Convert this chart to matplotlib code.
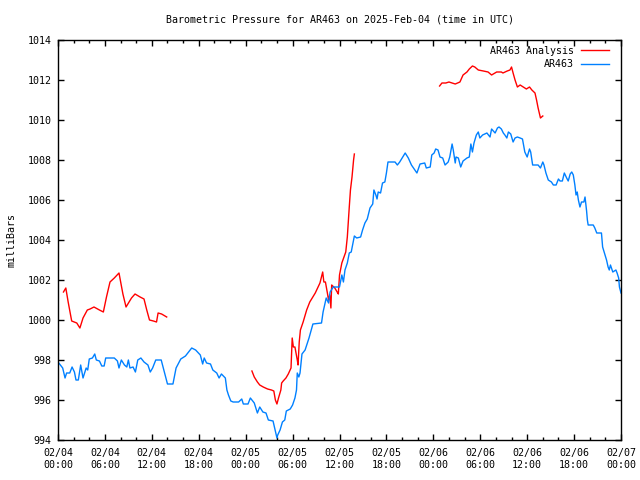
import numpy as np
import matplotlib
matplotlib.use('Agg')
import matplotlib.pyplot as plt
from matplotlib.ticker import MultipleLocator

# hours since 2025-02-04 00:00 UTC
ar463_hours = [0.0, 0.6, 0.9, 1.1, 1.5, 1.8, 2.1, 2.3, 2.6, 2.9, 3.2, 3.6, 3.8, 4.0, 4.4, 4.7, 4.9, 5.3, 5.6, 5.9,
               6.1, 7.2, 7.6, 7.8, 8.1, 8.5, 8.8, 9.0, 9.2, 9.6, 9.9, 10.2, 10.6, 11.0, 11.5, 11.8, 12.1, 12.5, 13.2,
               13.6, 14.0, 14.7, 15.1, 15.7, 16.3, 16.5, 17.1, 17.6, 18.2, 18.5, 18.7, 19.0, 19.5, 19.8, 20.3, 20.6,
               20.9, 21.4, 21.6, 21.8, 22.1, 22.4, 23.1, 23.5, 23.7, 24.3, 24.6, 25.1, 25.5, 25.8, 26.2, 26.6, 26.9,
               27.5, 27.7, 28.0, 28.1, 28.4, 28.7, 29.0, 29.2, 29.7, 30.0, 30.3, 30.5, 30.6, 30.8, 30.95, 31.2, 31.6,
               32.1, 32.6, 33.7, 33.9, 34.3, 34.6, 34.8, 35.2, 36.0, 36.3, 36.5, 36.7, 37.0, 37.25, 37.5, 37.9, 38.2,
               38.7, 38.95, 39.25, 39.55, 39.9, 40.25, 40.4, 40.65, 40.8, 40.95, 41.25, 41.5, 41.8, 42.0, 42.2, 43.1,
               43.4, 43.7, 44.4, 44.8, 45.2, 45.9, 46.3, 46.9, 47.1, 47.6, 47.8, 48.1, 48.3, 48.6, 48.85, 49.2, 49.5,
               49.9, 50.1, 50.4, 50.55, 50.8, 50.9, 51.2, 51.5, 51.8, 52.3, 52.6, 52.8, 53.0, 53.2, 53.5, 53.75, 53.95,
               54.3, 54.85, 55.25, 55.45, 55.9, 56.2, 56.4, 56.7, 56.95, 57.15, 57.4, 57.6, 57.9, 58.2, 58.45, 58.75,
               59.1, 59.4, 59.7, 60.0, 60.3, 60.45, 60.7, 61.4, 61.7, 62.0, 62.15, 62.4, 62.7, 63.1, 63.35, 63.7, 64.0,
               64.2, 64.5, 64.75, 65.05, 65.25, 65.5, 65.7, 65.9, 66.1, 66.25, 66.4, 66.55, 66.75, 66.95, 67.25, 67.4,
               67.6, 67.7, 67.8, 68.45, 68.65, 68.9, 69.5, 69.65, 69.95, 70.15, 70.35, 70.5, 70.65, 70.95, 71.35,
               71.5, 71.7, 71.8, 72.0]
ar463_mb = [997.9, 997.6, 997.1, 997.35, 997.35, 997.65, 997.4, 997.0, 997.0, 997.75, 997.1, 997.6, 997.5, 998.05,
            998.1, 998.3, 998.0, 997.95, 997.7, 997.7, 998.1, 998.1, 997.95, 997.6, 998.0, 997.75, 997.65, 998.0,
            997.6, 997.65, 997.4, 998.0, 998.1, 997.9, 997.75, 997.4, 997.6, 998.0, 998.0, 997.4, 996.8, 996.8,
            997.6, 998.05, 998.2, 998.3, 998.6, 998.5, 998.25, 997.8, 998.1, 997.85, 997.8, 997.5, 997.35, 997.1,
            997.3, 997.1, 996.5, 996.25, 995.95, 995.9, 995.9, 996.05, 995.8, 995.8, 996.1, 995.85, 995.35, 995.65,
            995.4, 995.35, 995.0, 994.95, 994.6, 994.1, 994.25, 994.5, 994.9, 995.0, 995.45, 995.55, 995.75, 996.1,
            996.5, 997.35, 997.15, 997.35, 998.3, 998.5, 999.1, 999.8, 999.85, 1000.4, 1001.1, 1000.85, 1001.4,
            1001.65, 1001.65, 1002.25, 1001.9, 1002.5, 1002.85, 1003.35, 1003.4, 1004.2, 1004.1, 1004.15, 1004.5,
            1004.85, 1005.05, 1005.6, 1005.8, 1006.5, 1006.25, 1006.05, 1006.4, 1006.35, 1006.85, 1006.9, 1007.35,
            1007.9, 1007.9, 1007.75, 1007.9, 1008.35, 1008.1, 1007.75, 1007.35, 1007.8, 1007.85, 1007.6, 1007.65,
            1008.25, 1008.35, 1008.55, 1008.5, 1008.15, 1008.1, 1007.75, 1007.9, 1008.15, 1008.8, 1008.5, 1007.85,
            1008.15, 1008.1, 1007.65, 1007.95, 1008.1, 1008.15, 1008.8, 1008.4, 1008.85, 1009.25, 1009.4, 1009.1,
            1009.25, 1009.35, 1009.15, 1009.55, 1009.35, 1009.6, 1009.65, 1009.55, 1009.35, 1009.25, 1009.1, 1009.4,
            1009.3, 1008.9, 1009.1, 1009.15, 1009.1, 1009.05, 1008.4, 1008.15, 1008.55, 1008.4, 1007.75, 1007.75,
            1007.6, 1007.9, 1007.75, 1007.35, 1007.0, 1006.9, 1006.75, 1006.75, 1007.05, 1006.95, 1006.95, 1007.35,
            1007.1, 1006.95, 1007.3, 1007.4, 1007.25, 1006.75, 1006.25, 1006.4, 1006.0, 1005.65, 1005.9, 1005.9,
            1006.15, 1005.45, 1005.0, 1004.75, 1004.75, 1004.6, 1004.35, 1004.35, 1003.65, 1003.25, 1003.0, 1002.65,
            1002.5, 1002.75, 1002.4, 1002.5, 1002.35, 1002.1, 1001.65, 1001.35]

# analysis runs (three separate pieces)
ana1_hours = [0.7, 1.0, 1.3, 1.75, 2.4, 2.8, 3.2, 3.75, 4.1, 4.6, 5.3, 5.8, 6.2, 6.65, 7.2, 7.8, 8.3, 8.7, 9.4, 9.85,
              10.5, 11.0, 11.35, 11.7, 12.2, 12.6, 12.8, 13.25, 13.9]
ana1_mb = [1001.4, 1001.6, 1000.9, 999.95, 999.85, 999.6, 1000.1, 1000.5, 1000.55, 1000.65, 1000.5, 1000.4, 1001.15,
           1001.9, 1002.1, 1002.35, 1001.3, 1000.65, 1001.1, 1001.3, 1001.15, 1001.05, 1000.5, 1000.0, 999.95, 999.9,
           1000.35, 1000.3, 1000.15]
ana2_hours = [24.8, 25.1, 25.5, 25.8, 26.25, 26.8, 27.3, 27.6, 27.8, 28.0, 28.2, 28.5, 28.6, 28.8, 29.15, 29.45, 29.8,
              29.95, 30.1, 30.3, 30.6, 30.7, 30.85, 31.0, 31.35, 31.8, 32.2, 32.9, 33.5, 33.85, 34.0, 34.2, 34.45,
              34.6, 34.75, 34.9, 35.0, 35.4, 35.7, 35.85, 36.0, 36.3, 36.8, 37.0, 37.25, 37.4, 37.6, 37.8, 37.9]
ana2_mb = [997.45, 997.15, 996.9, 996.75, 996.65, 996.55, 996.5, 996.45, 996.0, 995.8, 996.1, 996.5, 996.85, 996.95,
           997.1, 997.3, 997.6, 999.1, 998.65, 998.65, 998.0, 997.75, 998.9, 999.5, 999.9, 1000.5, 1000.9, 1001.35,
           1001.85, 1002.4, 1001.9, 1001.9, 1001.35, 1001.0, 1001.25, 1000.6, 1001.75, 1001.6, 1001.4, 1001.3,
           1002.25, 1002.85, 1003.4, 1004.15, 1005.65, 1006.5, 1007.15, 1008.0, 1008.3]
ana3_hours = [48.8, 49.1, 49.6, 50.0, 50.8, 51.4, 51.8, 52.3, 52.6, 53.0, 53.3, 53.75, 54.4, 55.0, 55.45, 56.1, 56.7,
              56.9, 57.45, 57.8, 58.0, 58.2, 58.45, 58.75, 59.1, 59.5, 59.9, 60.3, 60.6, 61.0, 61.2, 61.4, 61.7, 62.0]
ana3_mb = [1011.7, 1011.85, 1011.85, 1011.9, 1011.8, 1011.9, 1012.25, 1012.4, 1012.55, 1012.7, 1012.65, 1012.5,
           1012.45, 1012.4, 1012.25, 1012.4, 1012.4, 1012.35, 1012.45, 1012.5, 1012.65, 1012.35, 1012.0, 1011.65,
           1011.75, 1011.65, 1011.55, 1011.65, 1011.5, 1011.35, 1011.0, 1010.6, 1010.1, 1010.2]

tick_hours = list(range(0, 73, 6))
tick_labels = ['02/04\n00:00', '02/04\n06:00', '02/04\n12:00', '02/04\n18:00',
               '02/05\n00:00', '02/05\n06:00', '02/05\n12:00', '02/05\n18:00',
               '02/06\n00:00', '02/06\n06:00', '02/06\n12:00', '02/06\n18:00', '02/07\n00:00']

plt.rcParams['font.family'] = ['DejaVu Sans Mono']
plt.rcParams['font.size'] = 7.2

fig = plt.figure(figsize=(6.4, 4.8), dpi=100)
ax = fig.add_axes([58 / 640, 1 - 440 / 480, 563 / 640, 400 / 480])

# join the analysis pieces with NaN gaps so they share one legend entry
ana_hours = ana1_hours + [np.nan] + ana2_hours + [np.nan] + ana3_hours
ana_mb = ana1_mb + [np.nan] + ana2_mb + [np.nan] + ana3_mb

ax.plot(ana_hours, ana_mb, color='#ff0000', lw=1.0, label='AR463 Analysis')
ax.plot(ar463_hours, ar463_mb, color='#0080ff', lw=1.0, label='AR463')

ax.set_xlim(0, 72)
ax.set_ylim(994, 1014)
ax.set_xticks(tick_hours)
ax.set_xticklabels(tick_labels, linespacing=1.3)
ax.xaxis.set_minor_locator(MultipleLocator(2))
ax.set_yticks(np.arange(994, 1015, 2))

ax.tick_params(which='both', direction='in', top=True, right=True, width=1, color='black')
ax.tick_params(which='major', length=4)
ax.tick_params(which='minor', length=2)
ax.tick_params(axis='y', pad=4.5)
ax.tick_params(axis='x', pad=5.5)
for s in ax.spines.values():
    s.set_linewidth(1)

fig.text(339.5 / 640, 1 - 20 / 480, 'Barometric Pressure for AR463 on 2025-Feb-04 (time in UTC)',
         ha='center', va='center')
fig.text(12 / 640, 0.5, 'milliBars', rotation=90, ha='center', va='center')

ax.legend(loc='upper right', bbox_to_anchor=((609 - 58) / 563, 0.986), frameon=False, markerfirst=False,
          handlelength=2.8, handletextpad=0.7, labelspacing=0.35, borderpad=0, borderaxespad=0)

fig.savefig('out.png', dpi=100)
